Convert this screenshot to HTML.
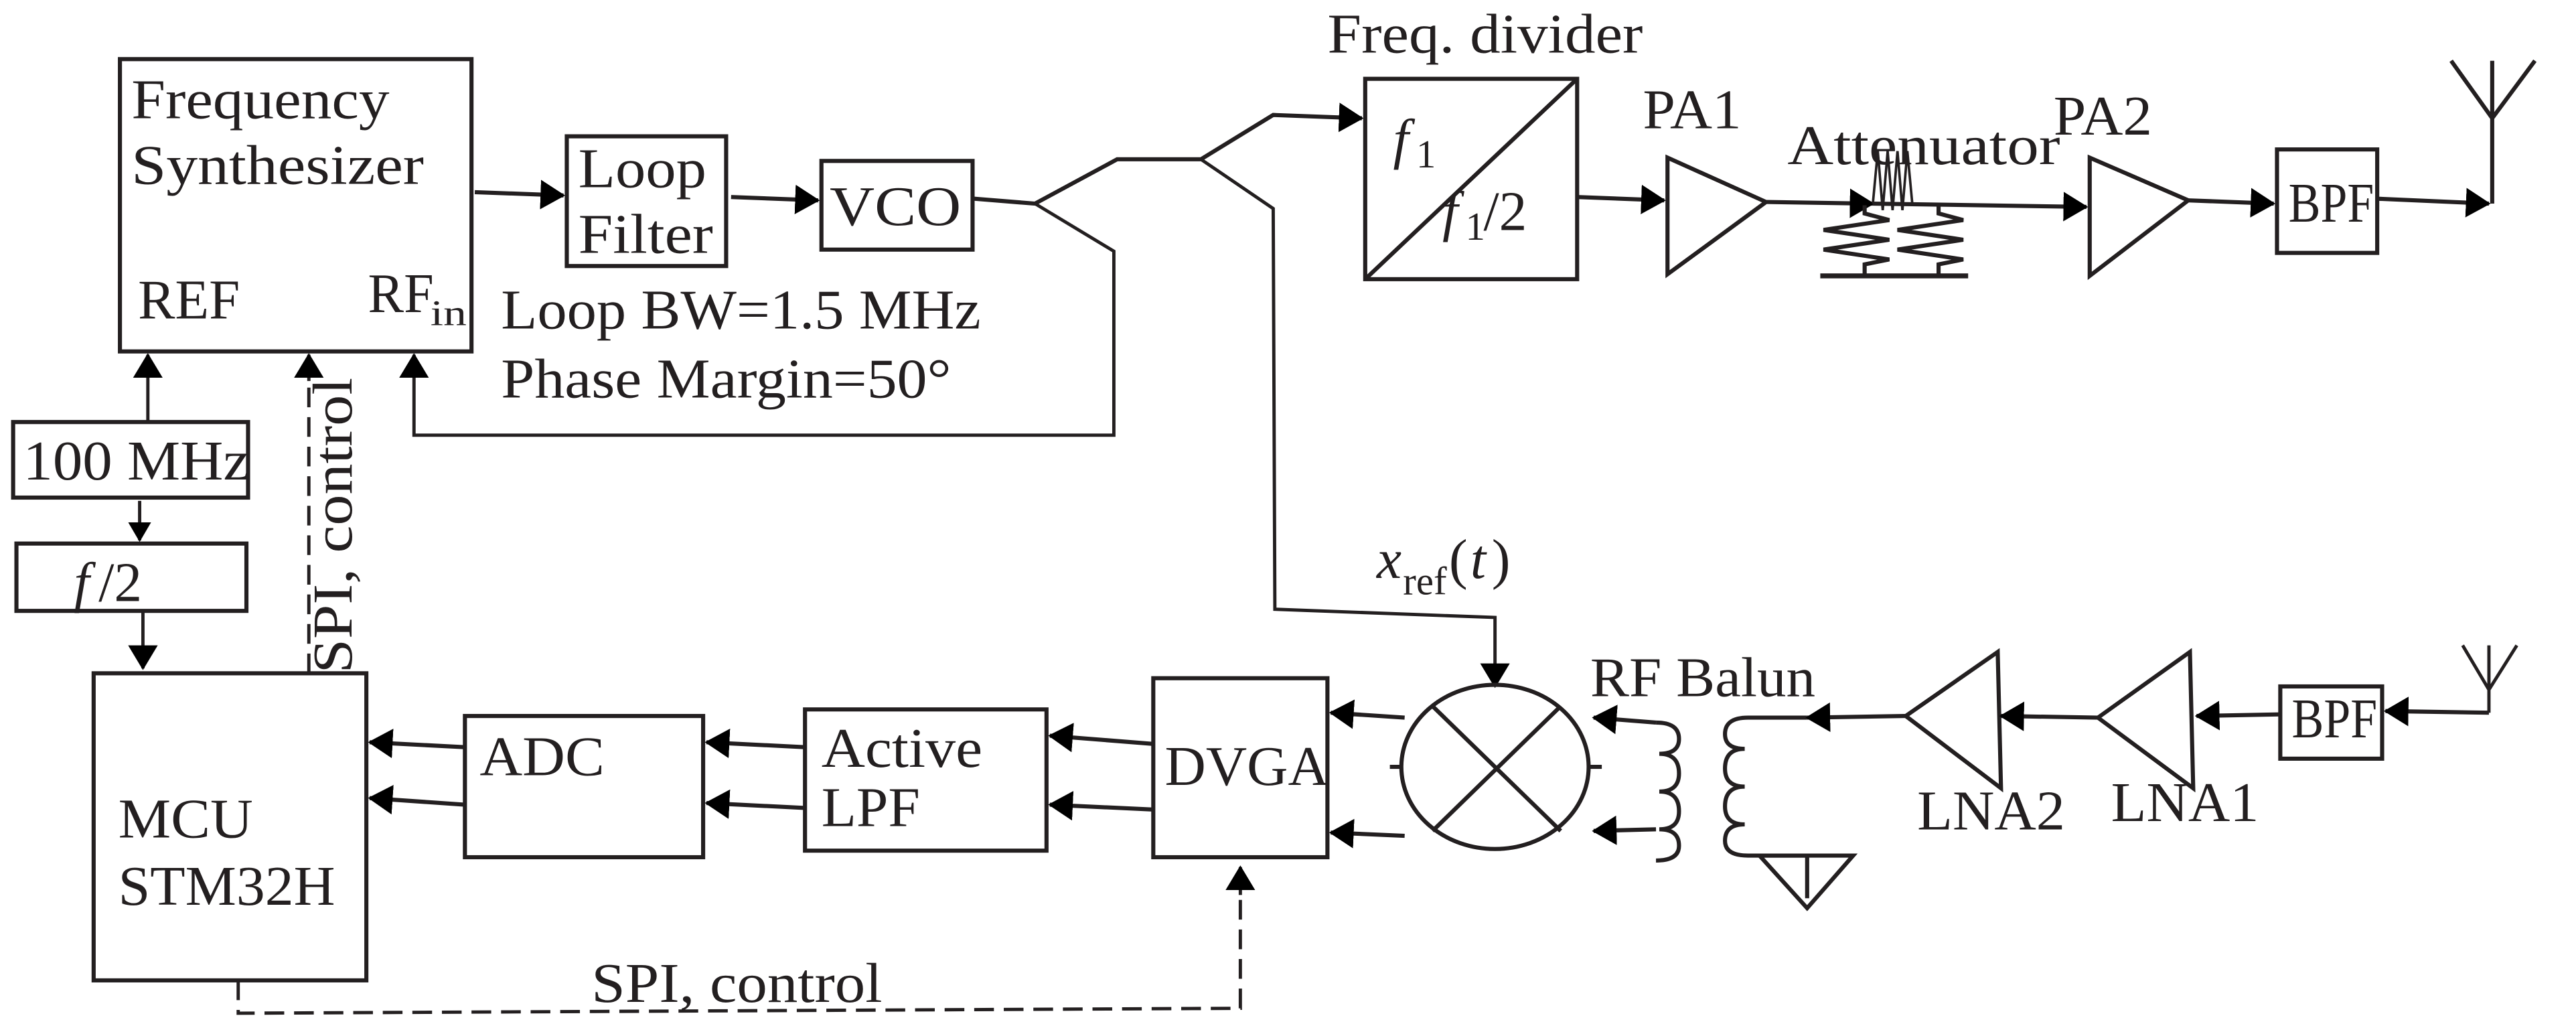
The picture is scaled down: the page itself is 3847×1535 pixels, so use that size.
<!DOCTYPE html>
<html><head><meta charset="utf-8"><style>html,body{margin:0;padding:0;background:#fff}svg{display:block}text{font-family:"Liberation Serif",serif}</style></head>
<body>
<svg width="3847" height="1535" viewBox="0 0 1568 626" preserveAspectRatio="none" xmlns="http://www.w3.org/2000/svg" fill="#231f20">
<defs>
<marker id="a" markerWidth="12" markerHeight="14" refX="11" refY="7" orient="auto" markerUnits="userSpaceOnUse" viewBox="0 0 12 14"><path d="M0,0 L12,7 L0,14z" fill="#000"/></marker>
<marker id="b" markerWidth="15" markerHeight="18" refX="14" refY="9" orient="auto" markerUnits="userSpaceOnUse" viewBox="0 0 15 18"><path d="M0,0 L15,9 L0,18z" fill="#000"/></marker>
</defs>
<g stroke="#231f20" fill="none" stroke-width="2.5">
<rect x="73" y="36" width="214" height="178"/>
<rect x="345" y="83" width="97" height="79"/>
<rect x="500" y="98" width="92" height="54"/>
<rect x="831" y="48" width="129" height="122"/>
<line x1="831" y1="170" x2="960" y2="48"/>
<rect x="1386" y="91" width="61" height="63"/>
<rect x="8" y="257" width="143" height="46"/>
<rect x="10" y="331" width="140" height="41"/>
<rect x="57" y="410" width="166" height="187"/>
<rect x="283" y="436" width="145" height="86"/>
<rect x="490" y="432" width="147" height="86"/>
<rect x="702" y="413" width="106" height="109"/>
<rect x="1388" y="418" width="62" height="44"/>
<line x1="289" y1="117" x2="343" y2="119" marker-end="url(#b)"/>
<line x1="445" y1="120" x2="498" y2="122" marker-end="url(#b)"/>
<polyline points="593,121 630,124 680,97 731,97 775,70 829,72" marker-end="url(#b)"/>
<polyline points="731,97 775,127 776,371 910,376 910,418" stroke-width="2" marker-end="url(#b)"/>
<polyline points="630,124 678,153 678,265 252,265 252,216" stroke-width="2" marker-end="url(#b)"/>
<line x1="90" y1="256" x2="90" y2="216" stroke-width="2" marker-end="url(#b)"/>
<line x1="85" y1="305" x2="85" y2="329" stroke-width="2" marker-end="url(#a)"/>
<line x1="87" y1="373" x2="87" y2="407" stroke-width="2" marker-end="url(#b)"/>
<line x1="960" y1="120" x2="1013" y2="122" marker-end="url(#b)"/>
<polygon points="1015,96 1015,167 1075,123"/>
<line x1="1075" y1="123" x2="1140" y2="124" marker-end="url(#b)"/>
<line x1="1140" y1="124" x2="1270" y2="126" marker-end="url(#b)"/>
<polygon points="1272,96 1272,168 1332,122"/>
<line x1="1332" y1="122" x2="1384" y2="124" marker-end="url(#b)"/>
<line x1="1447" y1="121" x2="1515" y2="124" marker-end="url(#b)"/>
<polyline points="1517,124 1517,37"/>
<polyline points="1492,37 1517,72 1543,37"/>
<polyline points="1140,124 1143,92 1146,128 1149,92 1152,128 1155,92 1158,128 1161,92 1164,124" stroke-width="1.5"/>
<polyline points="1135,125 1135,130 1150,134 1110,140 1150,146 1110,152 1150,158 1135,161 1135,168"/>
<polyline points="1180,125 1180,130 1195,134 1155,140 1195,146 1155,152 1195,158 1180,161 1180,168"/>
<line x1="1108" y1="168" x2="1198" y2="168" stroke-width="3"/>
<line x1="188" y1="410" x2="188" y2="216" stroke-dasharray="12,6" stroke-width="2"/>
<line x1="188" y1="232" x2="188" y2="216" stroke-width="2" marker-end="url(#b)"/>
<line x1="283" y1="455" x2="225" y2="452" marker-end="url(#b)"/>
<line x1="283" y1="490" x2="225" y2="486" marker-end="url(#b)"/>
<line x1="490" y1="455" x2="430" y2="452" marker-end="url(#b)"/>
<line x1="490" y1="492" x2="430" y2="489" marker-end="url(#b)"/>
<line x1="702" y1="453" x2="639" y2="448" marker-end="url(#b)"/>
<line x1="702" y1="493" x2="639" y2="490" marker-end="url(#b)"/>
<line x1="855" y1="437" x2="810" y2="434" marker-end="url(#b)"/>
<line x1="855" y1="509" x2="810" y2="507" marker-end="url(#b)"/>
<ellipse cx="910" cy="467" rx="57" ry="50"/>
<line x1="872" y1="430" x2="950" y2="506"/>
<line x1="950" y1="430" x2="872" y2="506"/>
<line x1="846" y1="467" x2="853" y2="467"/><line x1="967" y1="467" x2="975" y2="467"/>
<polyline points="1008,440 970,437" marker-end="url(#b)"/>
<polyline points="1008,505 970,506" marker-end="url(#b)"/>
<path d="M1008,440 q14,0 14,10 q0,9 -12,9 q12,0 12,12 q0,11 -12,11 q12,0 12,12 q0,11 -12,11 q12,0 12,10 q0,9 -14,9"/>
<path d="M1100,437 l-36,0 q-14,0 -14,10 q0,9 12,9 q-12,0 -12,12 q0,11 12,11 q-12,0 -12,12 q0,11 12,11 q-12,0 -12,10 q0,9 14,9 l36,0 l0,26"/>
<polygon points="1071,521 1128,521 1100,553"/>
<line x1="1160" y1="436" x2="1100" y2="437" marker-end="url(#b)"/>
<polygon points="1160,436 1216,397 1218,480"/>
<line x1="1277" y1="437" x2="1218" y2="436" marker-end="url(#b)"/>
<polygon points="1277,437 1333,397 1335,480"/>
<line x1="1388" y1="435" x2="1337" y2="436" marker-end="url(#b)"/>
<line x1="1515" y1="434" x2="1452" y2="433" marker-end="url(#b)"/>
<line x1="1515" y1="434" x2="1515" y2="393" stroke-width="2"/>
<polyline points="1499,393 1515,420 1532,393" stroke-width="2"/>
<polyline points="145,597 145,617 755,614 755,530" stroke-dasharray="12,6" stroke-width="2"/>
<line x1="755" y1="545" x2="755" y2="528" stroke-width="2" marker-end="url(#b)"/>
</g>
<g font-size="34">
<text x="80" y="72" textLength="157" lengthAdjust="spacingAndGlyphs">Frequency</text>
<text x="80" y="112" textLength="178" lengthAdjust="spacingAndGlyphs">Synthesizer</text>
<text x="84" y="194" textLength="62" lengthAdjust="spacingAndGlyphs">REF</text>
<text x="224" y="190" textLength="40" lengthAdjust="spacingAndGlyphs">RF</text><text x="262" y="198" font-size="22" textLength="22" lengthAdjust="spacingAndGlyphs">in</text>
<text x="352" y="114" textLength="78" lengthAdjust="spacingAndGlyphs">Loop</text>
<text x="352" y="154" textLength="82" lengthAdjust="spacingAndGlyphs">Filter</text>
<text x="505" y="137" textLength="80" lengthAdjust="spacingAndGlyphs">VCO</text>
<text x="305" y="200" textLength="292" lengthAdjust="spacingAndGlyphs">Loop BW=1.5 MHz</text>
<text x="305" y="242" textLength="274" lengthAdjust="spacingAndGlyphs">Phase Margin=50°</text>
<text x="808" y="32" textLength="192" lengthAdjust="spacingAndGlyphs">Freq. divider</text>
<text x="1000" y="78" textLength="60" lengthAdjust="spacingAndGlyphs">PA1</text>
<text x="1088" y="100" textLength="166" lengthAdjust="spacingAndGlyphs">Attenuator</text>
<text x="1250" y="82" textLength="60" lengthAdjust="spacingAndGlyphs">PA2</text>
<text x="1393" y="135" textLength="52" lengthAdjust="spacingAndGlyphs">BPF</text>
<text x="848" y="96" font-style="italic">f</text><text x="862" y="102" font-size="24">1</text>
<text x="878" y="140" font-style="italic">f</text><text x="892" y="146" font-size="24">1</text><text x="903" y="140">/2</text>
<text x="14" y="292" textLength="138" lengthAdjust="spacingAndGlyphs">100 MHz</text>
<text x="45" y="366" font-style="italic">f</text><text x="60" y="366">/2</text>
<text x="72" y="510" textLength="82" lengthAdjust="spacingAndGlyphs">MCU</text>
<text x="72" y="551" textLength="132" lengthAdjust="spacingAndGlyphs">STM32H</text>
<text x="292" y="472" textLength="76" lengthAdjust="spacingAndGlyphs">ADC</text>
<text x="500" y="467" textLength="98" lengthAdjust="spacingAndGlyphs">Active</text>
<text x="500" y="503" textLength="60" lengthAdjust="spacingAndGlyphs">LPF</text>
<text x="709" y="478" textLength="100" lengthAdjust="spacingAndGlyphs">DVGA</text>
<text x="968" y="424" textLength="137" lengthAdjust="spacingAndGlyphs">RF Balun</text>
<text x="1167" y="505" textLength="90" lengthAdjust="spacingAndGlyphs">LNA2</text>
<text x="1285" y="500" textLength="90" lengthAdjust="spacingAndGlyphs">LNA1</text>
<text x="1395" y="449" textLength="52" lengthAdjust="spacingAndGlyphs">BPF</text>
<text x="360" y="610" textLength="177" lengthAdjust="spacingAndGlyphs">SPI, control</text>
<text transform="translate(214,410) rotate(-90)" textLength="180" lengthAdjust="spacingAndGlyphs">SPI, control</text>
<text x="838" y="352" font-style="italic">x</text><text x="854" y="362" font-size="24">ref</text><text x="882" y="352">(</text><text x="895" y="352" font-style="italic">t</text><text x="908" y="352">)</text>
</g>
</svg>
</body></html>
